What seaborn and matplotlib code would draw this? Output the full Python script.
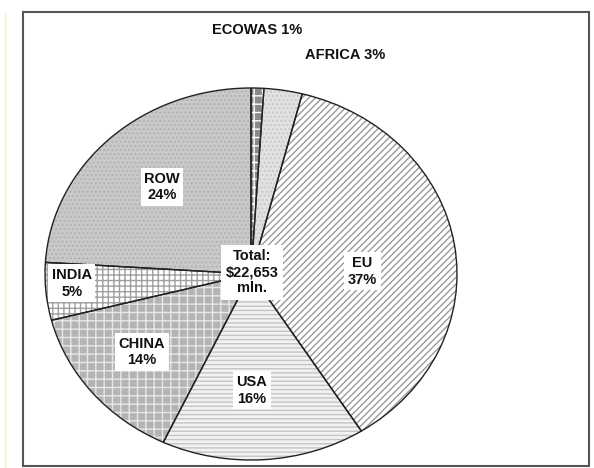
import matplotlib
matplotlib.use("Agg")
import matplotlib.pyplot as plt
from matplotlib.patches import Rectangle
from matplotlib.lines import Line2D
import seaborn as sns

sns.set_style("white")
plt.rcParams['font.family'] = ['Liberation Sans', 'DejaVu Sans']
plt.rcParams['hatch.linewidth'] = 1.0

# ---- data ----
regions = ["ECOWAS", "AFRICA", "EU", "USA", "CHINA", "INDIA", "ROW"]
shares = [1, 3, 37, 16, 14, 5, 24]
total_label = "Total:\n$22,653\nmln."

# ---- styles ----
face_colors = ["#8a8a8a", "#e2e2e2", "#ffffff", "#f2f2f2", "#b4b4b4", "#ffffff", "#c9c9c9"]
hatches = ["++", "....", "/////", "----", "++", "+++", "...."]
hatch_colors = ["#ffffff", "#c8c8c8", "#9a9a9a", "#c4c4c4", "#e8e8e8", "#a0a0a0", "#b2b2b2"]
# label positions (axes data units of the unit pie)
label_pos = {
    "ECOWAS": (0.03, 1.31, False),
    "AFRICA": (0.455, 1.175, False),
    "EU": (0.54, 0.015, True),
    "USA": (0.005, -0.625, True),
    "CHINA": (-0.53, -0.42, True),
    "INDIA": (-0.87, -0.05, True),
    "ROW": (-0.432, 0.468, True),
}

W, H = 594, 468
fig = plt.figure(figsize=(W / 100, H / 100), dpi=100)
fig.patch.set_facecolor("white")

# frame box
fig.add_artist(Rectangle((23 / W, 2 / H), 566 / W, 454 / H, transform=fig.transFigure,
                         fill=False, edgecolor="#555555", linewidth=1.5))
# faint scan artifact at far left
fig.add_artist(Line2D([5 / W, 5 / W], [0, 455 / H], transform=fig.transFigure,
                      color="#fff3a0", linewidth=1))

cx, cy, rx, ry = 251, 194, 206, 186
ax = fig.add_axes([(cx - rx) / W, (cy - ry) / H, 2 * rx / W, 2 * ry / H])

common = dict(startangle=90, counterclock=False, radius=1.0)
# fills
w1, _ = ax.pie(shares, colors=face_colors, wedgeprops=dict(linewidth=0), **common)
# hatches
w2, _ = ax.pie(shares, hatch=hatches, wedgeprops=dict(fill=False, linewidth=0), **common)
for w, c in zip(w2, hatch_colors):
    w.set_edgecolor(c)
    w.set_linewidth(0)
# outlines
w3, _ = ax.pie(shares, wedgeprops=dict(fill=False, edgecolor="#222222", linewidth=1.0), **common)

ax.set_aspect("auto")
ax.set_xlim(-1, 1)
ax.set_ylim(-1, 1)
ax.axis("off")

FS = 10.5
for name, val in zip(regions, shares):
    x, y, inside = label_pos[name]
    if inside:
        txt = f"{name}\n{val}%"
        ax.text(x, y, txt, ha="center", va="center", fontsize=FS, fontweight="bold",
                linespacing=1.25, color="#111111", clip_on=False,
                bbox=dict(boxstyle="square,pad=0.25", facecolor="white", edgecolor="none"))
    else:
        ax.text(x, y, f"{name} {val}%", ha="center", va="center", fontsize=FS,
                fontweight="bold", color="#111111", clip_on=False)

ax.text(0.005, 0.01, total_label, ha="center", va="center", fontsize=FS, fontweight="bold",
        linespacing=1.2, color="#111111",
        bbox=dict(boxstyle="square,pad=0.3", facecolor="white", edgecolor="none"))

fig.savefig("out.png", dpi=100, facecolor="white")
